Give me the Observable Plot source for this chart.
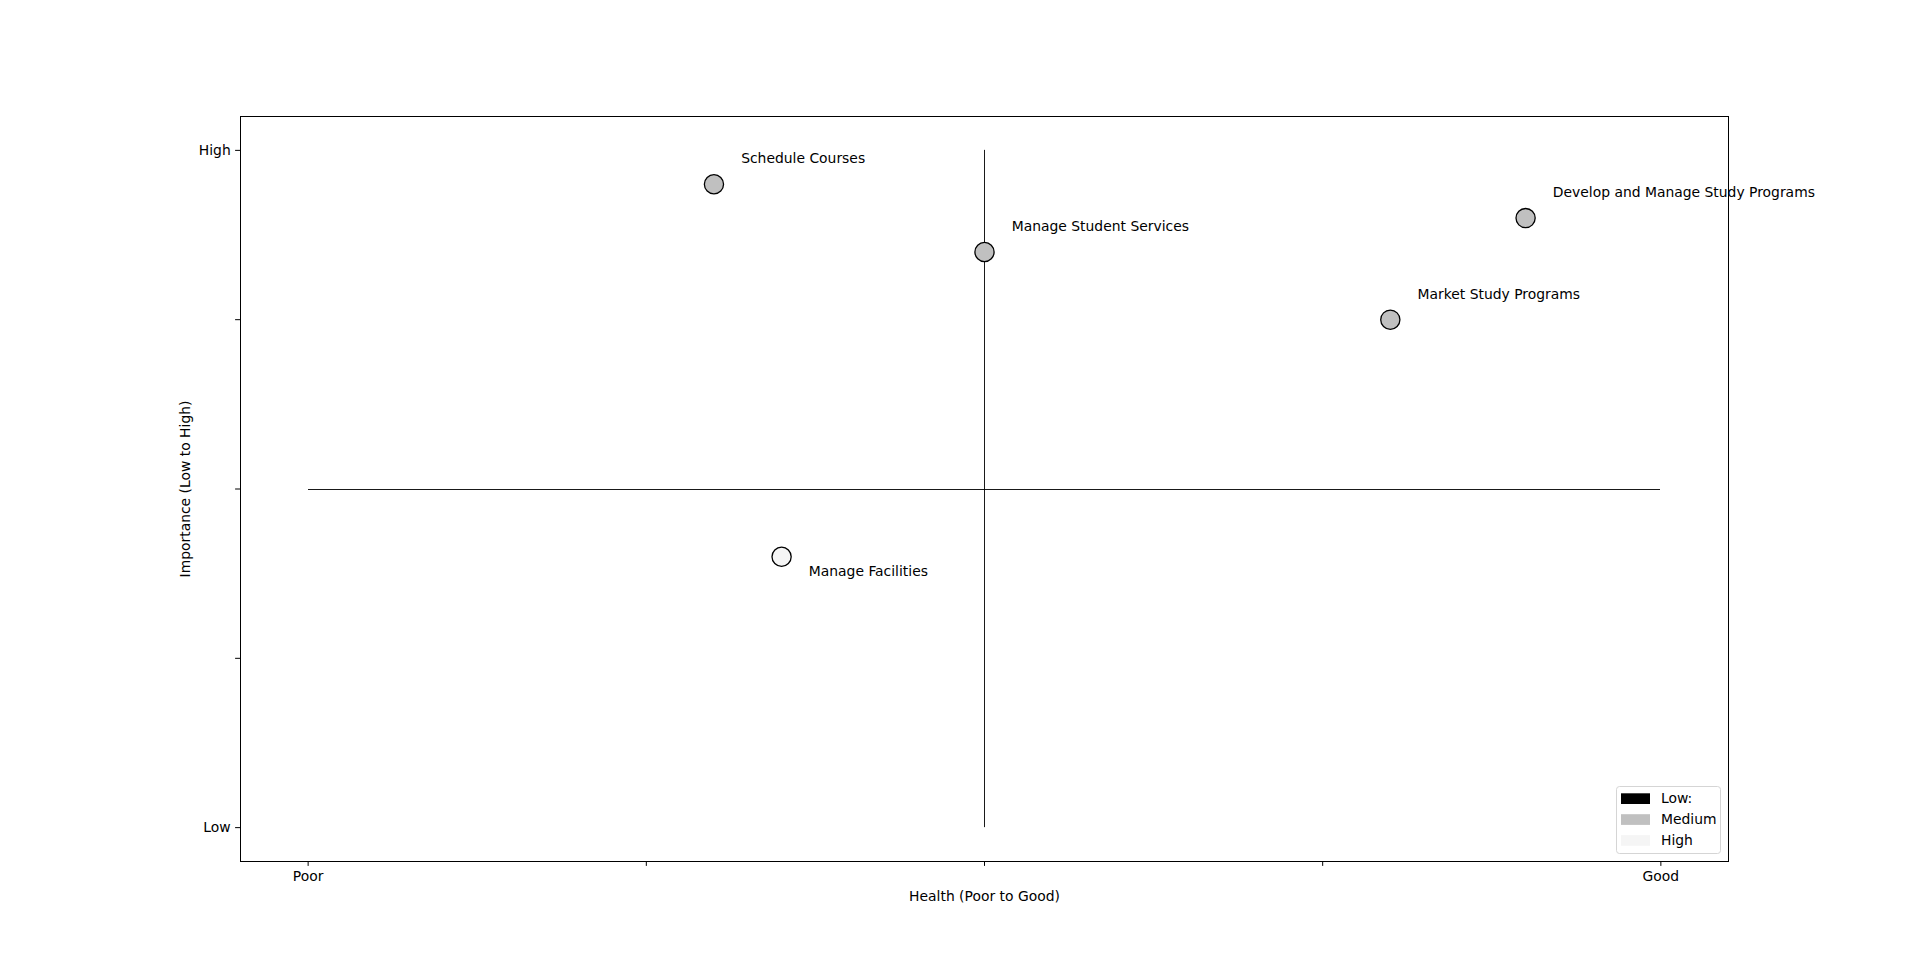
<!DOCTYPE html>
<html>
<head>
<meta charset="utf-8">
<script src="https://cdn.jsdelivr.net/npm/d3@7"></script>
<script src="https://cdn.jsdelivr.net/npm/@observablehq/plot@0.6"></script>
<style>
  html, body { margin: 0; padding: 0; background: #fff; }
  #chart { position: relative; width: 1920px; height: 967px; }
  #chart svg { display: block; }
</style>
</head>
<body>
<div id="chart"></div>
<script>
// ---- data ----
const names = ["Schedule Courses", "Manage Student Services", "Develop and Manage Study Programs", "Market Study Programs", "Manage Facilities"];
const health = [0.3, 0.5, 0.9, 0.8, 0.35];
const importance = [0.95, 0.85, 0.9, 0.75, 0.4];
const level = ["Medium", "Medium", "Medium", "Medium", "High"];

const levelDomain = ["Low", "Medium", "High"];
const levelLabels = ["Low:", "Medium", "High"];
const levelColors = ["#000000", "#c0c0c0", "#f5f5f5"];

const xTicks = [0, 0.25, 0.5, 0.75, 1];
const xTickLabels = ["Poor", "", "", "", "Good"];
const yTicks = [0, 0.25, 0.5, 0.75, 1];
const yTickLabels = ["Low", "", "", "", "High"];

const xTitle = "Health (Poor to Good)";
const yTitle = "Importance (Low to High)";

const data = names.map((n, i) => ({name: n, x: health[i], y: importance[i], level: level[i]}));
const above = data.filter(d => d.y >= 0.5);
const below = data.filter(d => d.y < 0.5);

const FS = 13.9;

const plot = Plot.plot({
  width: 1920,
  height: 967,
  marginLeft: 240,
  marginRight: 192,
  marginTop: 116,
  marginBottom: 106,
  style: {fontFamily: "'DejaVu Sans', sans-serif", fontSize: FS + "px", background: "#fff", color: "#000", overflow: "visible"},
  x: {domain: [-0.05, 1.05]},
  y: {domain: [-0.05, 1.05]},
  color: {domain: levelDomain, range: levelColors},
  marks: [
    Plot.ruleX([0.5], {y1: 0, y2: 1, stroke: "#000", strokeWidth: 0.9}),
    Plot.ruleY([0.5], {x1: 0, x2: 1, stroke: "#000", strokeWidth: 0.9, shapeRendering: "crispEdges"}),
    Plot.dot(data, {x: "x", y: "y", r: 9.6, fill: "level", stroke: "#000", strokeWidth: 1.3}),
    Plot.text(above, {x: "x", y: "y", text: "name", dx: 27.2, dy: -25.6, textAnchor: "start", lineAnchor: "middle", fontSize: FS, fill: "#000"}),
    Plot.text(below, {x: "x", y: "y", text: "name", dx: 27.2, dy: 15.1, textAnchor: "start", lineAnchor: "middle", fontSize: FS, fill: "#000"}),
    Plot.axisX(xTicks, {tickFormat: d => xTickLabels[xTicks.indexOf(d)], tickSize: 4.9, tickPadding: 4.9, label: null, fontSize: FS}),
    Plot.axisY(yTicks, {tickFormat: d => yTickLabels[yTicks.indexOf(d)], tickSize: 4.9, tickPadding: 4.9, label: null, fontSize: FS}),
    Plot.text([xTitle], {frameAnchor: "bottom", dy: 35, text: d => d, textAnchor: "middle", lineAnchor: "middle", fontSize: FS, fill: "#000"}),
    Plot.text([yTitle], {frameAnchor: "left", dx: -55, text: d => d, rotate: -90, textAnchor: "middle", lineAnchor: "middle", fontSize: FS, fill: "#000"}),
    Plot.frame({stroke: "#000", strokeWidth: 1})
  ]
});

const chart = document.getElementById("chart");
chart.appendChild(plot);

// ---- legend (inside the axes, lower right) ----
const leg = d3.select(chart).append("svg")
  .attr("width", 108).attr("height", 70)
  .style("position", "absolute").style("left", "1616px").style("top", "786px")
  .style("font-family", "'DejaVu Sans', sans-serif").style("font-size", FS + "px");
leg.append("rect").attr("x", 0.5).attr("y", 0.5).attr("width", 104).attr("height", 67)
  .attr("rx", 3).attr("fill", "rgba(255,255,255,0.8)").attr("stroke", "#d5d5d5");
levelLabels.forEach((lab, i) => {
  leg.append("rect").attr("x", 5).attr("y", 7.3 + i * 20.9).attr("width", 29).attr("height", 10.7)
    .attr("fill", levelColors[i]);
  leg.append("text").attr("x", 45).attr("y", 17 + i * 21).attr("fill", "#000").text(lab);
});
</script>
</body>
</html>
